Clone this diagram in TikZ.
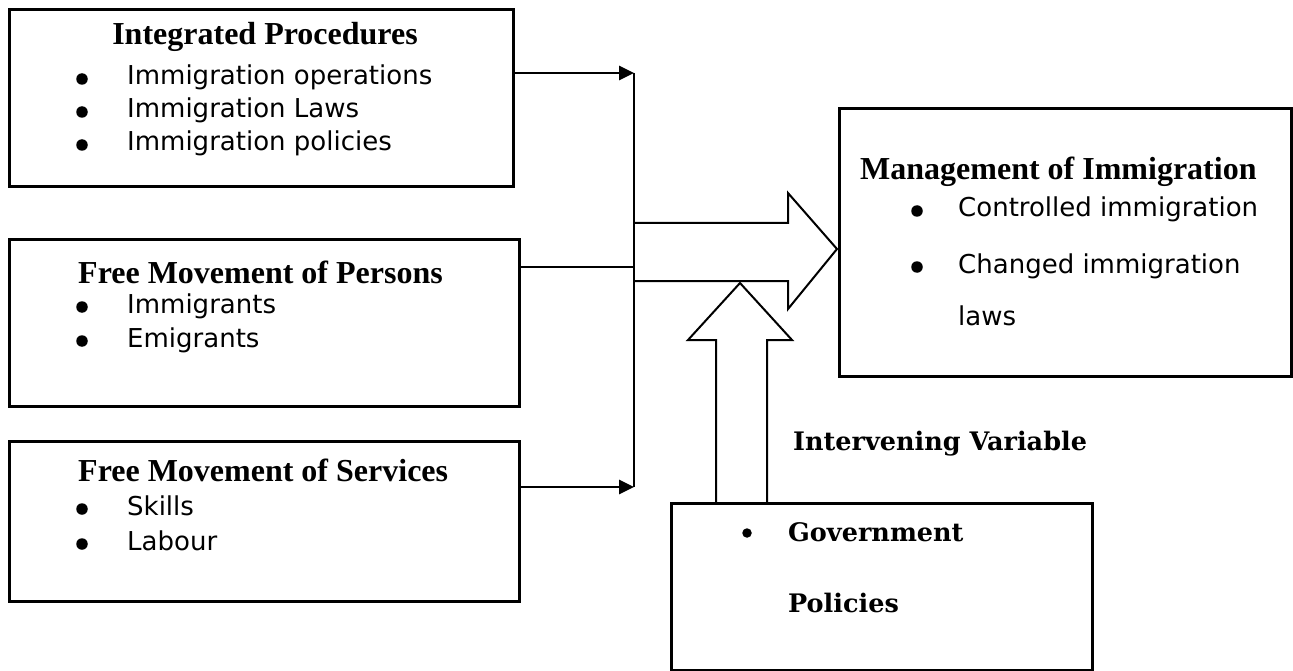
\documentclass[tikz,border=0pt]{standalone}
\usepackage{fontspec}
\setmainfont{Liberation Serif}
\newfontfamily\bodyfont{DejaVu Sans}
\newfontfamily\heavyfont{DejaVu Serif}
\usetikzlibrary{arrows.meta}

\tikzset{
	box/.style={draw, line width=2.6pt, anchor=north west, inner sep=0pt},
	head/.style={anchor=base west, inner sep=0pt, font=\fontsize{32}{38}\selectfont\bfseries},
	heavy/.style={anchor=base west, inner sep=0pt, font=\fontsize{25.5}{30}\heavyfont\bfseries},
	item/.style={anchor=base west, inner sep=0pt, font=\fontsize{26}{32}\bodyfont},
	dot/.style={circle, fill, inner sep=0pt, minimum size=11.5pt},
	link/.style={line width=2.6pt, -{Triangle[length=15pt,width=14pt]}},
	fat/.style={line width=2pt, line join=miter}
}

\begin{document}
\begin{tikzpicture}[x=1pt, y=-1pt]
	\useasboundingbox (0,0) rectangle (1293,671);

	% boxes
	\node[box, minimum width=504pt, minimum height=177pt] (proc) at (8,8) {};
	\node[box, minimum width=510pt, minimum height=167pt] (pers) at (8,238) {};
	\node[box, minimum width=510pt, minimum height=160pt] (serv) at (8,440) {};
	\node[box, minimum width=452pt, minimum height=268pt] (mgmt) at (838,107) {};
	\node[box, minimum width=421pt, minimum height=167pt] (gov) at (670,502) {};

	% Integrated Procedures
	\node[head, anchor=base] (procH) at (265,45) {Integrated Procedures};
	\foreach \t [count=\i] in {Immigration operations, Immigration Laws, Immigration policies} {
		\node[dot] (procD\i) at (82,46+33*\i) {};
		\node[item] (procI\i) at (127,52+33*\i) {\t};
	}

	% Free Movement of Persons
	\node[head] (persH) at (78,283) {Free Movement of Persons};
	\foreach \t [count=\i] in {Immigrants, Emigrants} {
		\node[dot] (persD\i) at (82,273+34*\i) {};
		\node[item] (persI\i) at (127,279+34*\i) {\t};
	}

	% Free Movement of Services
	\node[head] (servH) at (78,481) {Free Movement of Services};
	\foreach \t [count=\i] in {Skills, Labour} {
		\node[dot] (servD\i) at (82,474+35*\i) {};
		\node[item] (servI\i) at (127,480+35*\i) {\t};
	}

	% Management of Immigration
	\node[head] (mgmtH) at (860,180) {Management of Immigration};
	\node[dot] (mgmtD1) at (917,211) {};
	\node[item] (mgmtI1) at (958,217) {Controlled immigration};
	\node[dot] (mgmtD2) at (917,267) {};
	\node[item] (mgmtI2) at (958,273) {Changed immigration};
	\node[item] (mgmtI3) at (958,325) {laws};

	% Intervening Variable
	\node[heavy] (ivar) at (793,450) {Intervening Variable};
	\node[dot, minimum size=9.5pt] (govD) at (747,533) {};
	\node[heavy] (govI1) at (788,541) {Government};
	\node[heavy] (govI2) at (788,612) {Policies};

	% connectors
	\coordinate (j1) at (634,73);
	\coordinate (j2) at (634,267);
	\coordinate (j3) at (634,487);
	\draw[link] (proc.east |- j1) -- (j1);
	\draw[line width=2.6pt] (pers.east |- j2) -- (j2);
	\draw[link] (serv.east |- j3) -- (j3);
	\draw[line width=2.6pt] (j1) -- (j3);

	% block arrows
	\coordinate (tip) at (837,249);
	\coordinate (up) at (740,283);
	\draw[fat] (634,223) -- (788,223) -- (788,193) -- (tip) -- (788,309) -- (788,281) -- (634,281);
	\draw[fat] (gov.north west -| 716,0) -- (716,340) -- (688,340) -- (up) -- (792,340) -- (767,340) -- (gov.north west -| 767,0);
\end{tikzpicture}
\end{document}
